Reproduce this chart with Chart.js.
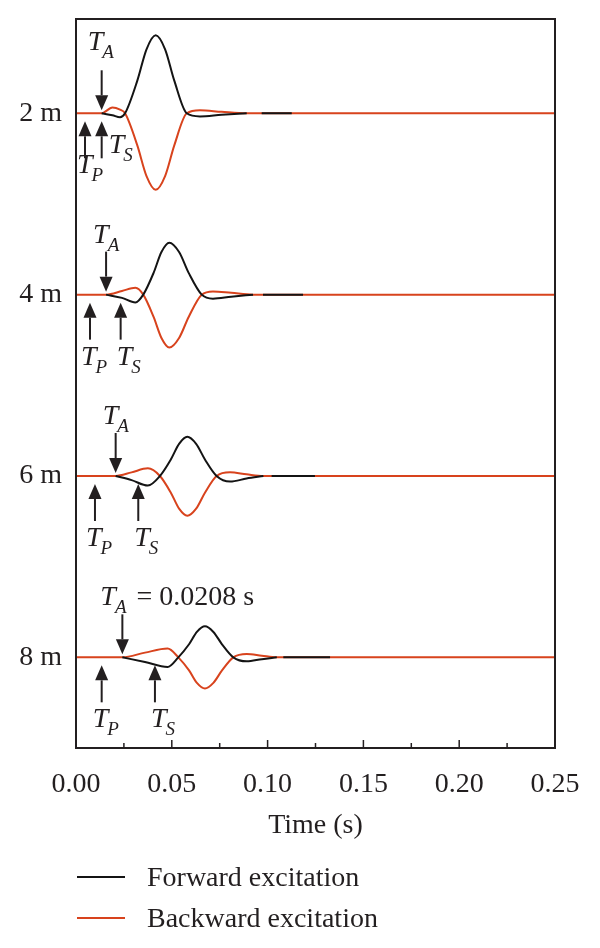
<!DOCTYPE html>
<html>
<head>
<meta charset="utf-8">
<script src="https://cdn.jsdelivr.net/npm/chart.js@4.4.0/dist/chart.umd.min.js"></script>
<style>
  html, body { margin: 0; padding: 0; background: #fff; }
</style>
</head>
<body>
<canvas id="waves" width="600" height="948"></canvas>
<script>
// trace labels, top to bottom
const distances = ['2 m', '4 m', '6 m', '8 m'];
const seriesNames = ['Forward excitation', 'Backward excitation'];
const xTicks = [0, 0.05, 0.10, 0.15, 0.20, 0.25];

// arrival times (s) marked by the arrows
const tP = [0.0047, 0.0073, 0.0099, 0.0134];
const tS = [0.0134, 0.0233, 0.0325, 0.0412];
const tA = [0.0134, 0.0157, 0.0207, 0.0242];
const tALabel = [null, null, null, ' = 0.0208 s'];

// amplitudes in % of the trace spacing; null = no forward line drawn
const t2   = [0, 0.0134, 0.0190, 0.0230, 0.0256, 0.0320, 0.0368, 0.0416, 0.0465, 0.0513, 0.0578, 0.0647, 0.0760, 0.0891, 0.0930, 0.0969, 0.1126, 0.25];
const fwd2 = [null, 0, -1.1, -2.2, 0, 18.0, 35.3, 43.0, 35.3, 18.0, 0, -1.7, -0.8, 0, null, 0, 0, null];
const bwd2 = [0, 0, 3.2, 2.0, 0, -17.7, -34.6, -42.2, -34.6, -17.7, 0, 1.7, 0.8, 0, 0, 0, 0, 0];

const t4   = [0, 0.0157, 0.0240, 0.0310, 0.0351, 0.0405, 0.0446, 0.0487, 0.0538, 0.0588, 0.0656, 0.0715, 0.0810, 0.0924, 0.0950, 0.0976, 0.1185, 0.25];
const fwd4 = [null, 0, -1.8, -4.3, 0, 12.0, 23.5, 28.6, 23.5, 12.0, 0, -2.2, -1.1, 0, null, 0, 0, null];
const bwd4 = [0, 0, 2.0, 3.8, 0, -12.3, -23.9, -29.2, -23.9, -12.3, 0, 1.8, 1.0, 0, 0, 0, 0, 0];

const t6   = [0, 0.0207, 0.0290, 0.0375, 0.0438, 0.0495, 0.0538, 0.0581, 0.0627, 0.0673, 0.0734, 0.0804, 0.0890, 0.0978, 0.1000, 0.1021, 0.1247, 0.25];
const fwd6 = [null, 0, -2.3, -5.3, 0, 9.1, 17.7, 21.6, 17.7, 9.1, 0, -3.1, -1.4, 0, null, 0, 0, null];
const bwd6 = [0, 0, 2.0, 4.2, 0, -9.2, -18.0, -21.9, -18.0, -9.2, 0, 2.0, 0.9, 0, 0, 0, 0, 0];

const t8   = [0, 0.0242, 0.0360, 0.0478, 0.0534, 0.0590, 0.0631, 0.0673, 0.0717, 0.0762, 0.0821, 0.0891, 0.0970, 0.1048, 0.1065, 0.1082, 0.1326, 0.25];
const fwd8 = [null, 0, -2.6, -5.3, 0, 7.2, 14.0, 17.1, 14.0, 7.2, 0, -2.2, -1.0, 0, null, 0, 0, null];
const bwd8 = [0, 0, 2.6, 4.8, 0, -7.2, -14.1, -17.2, -14.1, -7.2, 0, 1.9, 0.9, 0, 0, 0, 0, 0];

const times = [t2, t4, t6, t8];
const forward = [fwd2, fwd4, fwd6, fwd8];
const backward = [bwd2, bwd4, bwd6, bwd8];

const FONT = '"Liberation Serif", "DejaVu Serif", serif';
const INK = '#231f20';
const BLACK = '#141414';
const RED = '#d8431d';
const gain = 0.01;  // % of spacing -> y units
const baseOf = i => distances.length - 0.5 - i;  // trace baselines: 3.5, 2.5, 1.5, 0.5

function toPoints(i, amps) {
  return times[i].map((t, k) => ({ x: t, y: amps[k] === null ? null : baseOf(i) + amps[k] * gain }));
}

const datasets = [];
// forward first so it is painted on top
distances.forEach((d, i) => datasets.push({ label: seriesNames[0], data: toPoints(i, forward[i]), borderColor: BLACK }));
distances.forEach((d, i) => datasets.push({ label: seriesNames[1], data: toPoints(i, backward[i]), borderColor: RED }));

function arrow(ctx, x, yTail, yTip) {
  const dir = yTip > yTail ? 1 : -1;
  const head = 15, half = 6.5;
  ctx.beginPath();
  ctx.moveTo(x, yTail);
  ctx.lineTo(x, yTip - dir * head);
  ctx.stroke();
  ctx.beginPath();
  ctx.moveTo(x, yTip);
  ctx.lineTo(x - half, yTip - dir * head);
  ctx.lineTo(x + half, yTip - dir * head);
  ctx.closePath();
  ctx.fill();
}

function subLabel(ctx, x, y, main, sub, tail) {
  ctx.textAlign = 'left';
  ctx.textBaseline = 'alphabetic';
  ctx.font = 'italic 28px ' + FONT;
  ctx.fillText(main, x, y);
  let w = ctx.measureText(main).width;
  ctx.font = 'italic 19px ' + FONT;
  ctx.fillText(sub, x + w - 1, y + 8);
  w += ctx.measureText(sub).width;
  if (tail) {
    ctx.font = '28px ' + FONT;
    ctx.fillText(tail, x + w + 2, y);
  }
}

const decorations = {
  id: 'decorations',
  afterDraw(chart) {
    const ctx = chart.ctx;
    const area = chart.chartArea;
    const xs = chart.scales.x, ys = chart.scales.y;
    ctx.save();
    ctx.strokeStyle = INK;
    ctx.fillStyle = INK;

    // frame
    ctx.lineWidth = 2;
    ctx.strokeRect(area.left, area.top, area.right - area.left, area.bottom - area.top);

    // inward ticks, majors and midpoints
    ctx.lineWidth = 1.5;
    xTicks.forEach((v, k) => {
      const px = xs.getPixelForValue(v);
      ctx.beginPath(); ctx.moveTo(px, area.bottom); ctx.lineTo(px, area.bottom - 8); ctx.stroke();
      if (k < xTicks.length - 1) {
        const pm = xs.getPixelForValue((v + xTicks[k + 1]) / 2);
        ctx.beginPath(); ctx.moveTo(pm, area.bottom); ctx.lineTo(pm, area.bottom - 5); ctx.stroke();
      }
    });

    // arrival arrows
    ctx.lineWidth = 2;
    distances.forEach((d, i) => {
      const y0 = ys.getPixelForValue(baseOf(i));
      const xa = xs.getPixelForValue(tA[i]);
      const xp = xs.getPixelForValue(tP[i]);
      const xsw = xs.getPixelForValue(tS[i]);

      arrow(ctx, xa, y0 - 43, y0 - 3);
      arrow(ctx, xp, y0 + 45, y0 + 8);
      arrow(ctx, xsw, y0 + 45, y0 + 8);

      if (i === 0) {
        subLabel(ctx, xa - 14, y0 - 63, 'T', 'A');
        subLabel(ctx, xp - 8, y0 + 60, 'T', 'P');
        subLabel(ctx, xsw + 7, y0 + 40, 'T', 'S');
      } else {
        subLabel(ctx, tALabel[i] ? xa - 22 : xa - 13, y0 - 52, 'T', 'A', tALabel[i]);
        subLabel(ctx, xp - 9, y0 + 70, 'T', 'P');
        subLabel(ctx, xsw - 4, y0 + 70, 'T', 'S');
      }
    });

    // legend
    const rows = [877, 918];
    seriesNames.forEach((name, k) => {
      ctx.strokeStyle = k === 0 ? BLACK : RED;
      ctx.lineWidth = 2;
      ctx.beginPath(); ctx.moveTo(77, rows[k]); ctx.lineTo(125, rows[k]); ctx.stroke();
      ctx.fillStyle = INK;
      ctx.font = '28px ' + FONT;
      ctx.textAlign = 'left';
      ctx.textBaseline = 'alphabetic';
      ctx.fillText(name, 147, rows[k] + 9);
    });
    ctx.restore();
  }
};

new Chart(document.getElementById('waves').getContext('2d'), {
  type: 'line',
  data: { datasets: datasets },
  options: {
    responsive: false,
    animation: false,
    devicePixelRatio: 1,
    spanGaps: false,
    layout: { padding: { top: 19, right: 45, bottom: 100, left: 0 } },
    elements: {
      point: { radius: 0 },
      line: { borderWidth: 2, cubicInterpolationMode: 'monotone', fill: false }
    },
    plugins: { legend: { display: false }, tooltip: { enabled: false } },
    scales: {
      x: {
        type: 'linear',
        min: 0,
        max: 0.25,
        afterBuildTicks: s => { s.ticks = xTicks.map(v => ({ value: v })); },
        afterFit: s => { s.height = 100; s.paddingLeft = 0; s.paddingRight = 0; },
        grid: { display: false, drawTicks: false },
        border: { display: false },
        ticks: {
          padding: 20,
          color: INK,
          font: { family: FONT, size: 28 },
          callback: v => Number(v).toFixed(2)
        },
        title: {
          display: true,
          text: 'Time (s)',
          color: INK,
          font: { family: FONT, size: 28 },
          padding: { top: 0, bottom: 6 }
        }
      },
      y: {
        type: 'linear',
        min: 0,
        max: 4.02,
        afterBuildTicks: s => { s.ticks = distances.map((d, i) => ({ value: baseOf(i) })); },
        afterFit: s => { s.width = 76; s.paddingTop = 0; s.paddingBottom = 0; },
        grid: { display: false, drawTicks: false },
        border: { display: false },
        ticks: {
          padding: 14,
          color: INK,
          font: { family: FONT, size: 28 },
          callback: v => distances[distances.length - 1 - Math.round(v - 0.5)]
        }
      }
    }
  },
  plugins: [decorations]
});
</script>
</body>
</html>
